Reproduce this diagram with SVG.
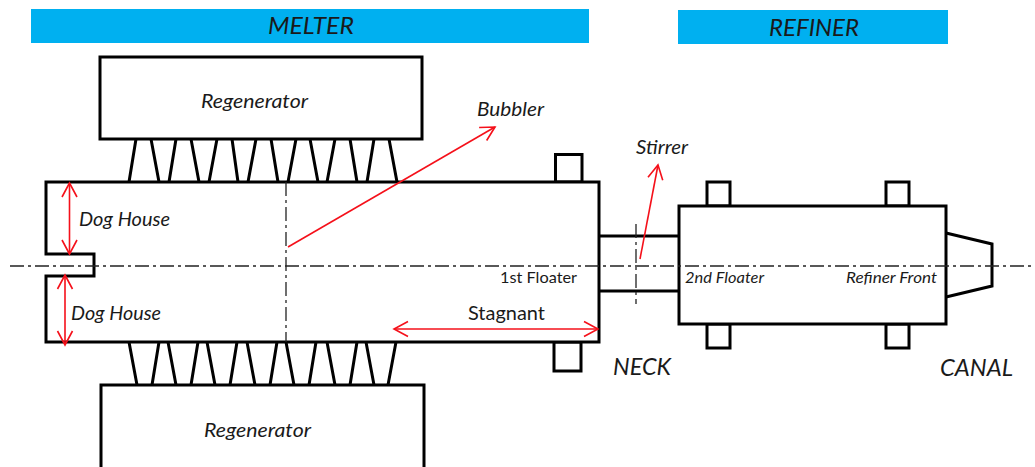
<svg xmlns="http://www.w3.org/2000/svg" width="1035" height="467" viewBox="0 0 1035 467">
<style>
text{font-family:Lato,"Open Sans","Liberation Sans",sans-serif;font-style:italic;fill:#1a1a1a}
.o{fill:#fff;stroke:#000;stroke-width:3}
.l{fill:none;stroke:#000;stroke-width:3}
.c{fill:none;stroke:#222;stroke-width:1.3;stroke-dasharray:14 4 3 4}
.r{fill:none;stroke:#f5101a;stroke-width:1.6}
.big{font-size:24px}
.m{font-size:20px}
.s{font-size:16px}
</style>
<defs>
<marker id="a" markerUnits="userSpaceOnUse" markerWidth="18" markerHeight="18" refX="15" refY="9" orient="auto-start-reverse" viewBox="0 0 18 18"><path d="M1 1.500L15 9L1 16.500" fill="none" stroke="#f5101a" stroke-width="1.600"/></marker>
</defs>
<rect width="1035" height="467" fill="#fff"/>
<g id="melter-bar"><rect x="31" y="9" width="558" height="34" fill="#00b0f0"/><text class="big" x="268" y="34" textLength="86" lengthAdjust="spacingAndGlyphs">MELTER</text></g>
<g id="refiner-bar"><rect x="678" y="10" width="270" height="34" fill="#00b0f0"/><text class="big" x="769" y="36" textLength="90" lengthAdjust="spacingAndGlyphs">REFINER</text></g>
<g id="regenerator-top"><rect class="o" x="100" y="57" width="322" height="82"/><text class="m" x="201" y="108" textLength="107" lengthAdjust="spacingAndGlyphs">Regenerator</text></g>
<g id="regenerator-bottom"><rect class="o" x="101" y="385" width="323" height="90"/><text class="m" x="204" y="437" textLength="107" lengthAdjust="spacingAndGlyphs">Regenerator</text></g>
<g id="ports"><path class="l" d="M136 139L129 182M151 139L159 182M176 139L169 182M191 139L199 182M217 139L209 182M232 139L238 182M256 139L248 182M271 139L278 182M296 139L288 182M310 139L318 182M335 139L327 182M350 139L357 182M374 139L367 182M389 139L397 182"/>
<path class="l" d="M129 342L137 385M159 342L152 385M168 342L176 385M198 342L191 385M207 342L215 385M237 342L230 385M247 342L255 385M277 342L270 385M286 342L294 385M316 342L309 385M327 342L335 385M357 342L350 385M366 342L374 385M396 342L388 385"/></g>
<g id="floater-tabs"><rect class="o" x="555.500" y="154.500" width="26.500" height="27.500"/><rect class="o" x="554" y="342" width="27" height="29"/><rect class="o" x="707" y="182" width="23" height="24"/><rect class="o" x="707" y="324" width="23" height="24"/><rect class="o" x="886" y="182" width="23" height="24"/><rect class="o" x="886" y="324" width="23" height="24"/></g>
<g id="melter"><path class="o" d="M46 182H599V342H46V276H94V254H46Z"/></g>
<g id="neck"><path class="l" d="M599 236H679M599 291H679"/><text class="big" x="613" y="375" textLength="58" lengthAdjust="spacingAndGlyphs">NECK</text></g>
<g id="refiner"><rect class="o" x="679" y="206" width="267" height="118"/></g>
<g id="canal"><path class="l" d="M946 233L992 244V286L946 297"/><text class="big" x="940" y="376" textLength="73" lengthAdjust="spacingAndGlyphs">CANAL</text></g>
<g id="connectors">
<path class="c" d="M10 266H1035"/>
<path class="c" d="M286 182V342"/>
<path class="c" d="M636 224V304"/>
<path class="r" d="M69.500 183V254" marker-start="url(#a)" marker-end="url(#a)"/>
<path class="r" d="M65 275V345" marker-start="url(#a)" marker-end="url(#a)"/>
<path class="r" d="M288 247L495 127" marker-end="url(#a)"/>
<path class="r" d="M640 259L658 165" marker-end="url(#a)"/>
<path class="r" d="M394 329H598" marker-start="url(#a)" marker-end="url(#a)"/>
</g>
<g id="labels">
<text class="m" x="79" y="226" textLength="91" lengthAdjust="spacingAndGlyphs">Dog House</text>
<text class="m" x="71" y="320" textLength="90" lengthAdjust="spacingAndGlyphs">Dog House</text>
<text class="m" x="477" y="116" textLength="67" lengthAdjust="spacingAndGlyphs">Bubbler</text>
<text class="m" x="636" y="154" textLength="52" lengthAdjust="spacingAndGlyphs">Stirrer</text>
<text class="m" x="468" y="320" textLength="77" lengthAdjust="spacingAndGlyphs" style="font-style:normal">Stagnant</text>
<text class="s" x="500" y="283" textLength="77" lengthAdjust="spacingAndGlyphs" style="font-style:normal">1st Floater</text>
<text class="s" x="685" y="283" textLength="79" lengthAdjust="spacingAndGlyphs">2nd Floater</text>
<text class="s" x="846" y="283" textLength="91" lengthAdjust="spacingAndGlyphs">Refiner Front</text>
</g>
</svg>
